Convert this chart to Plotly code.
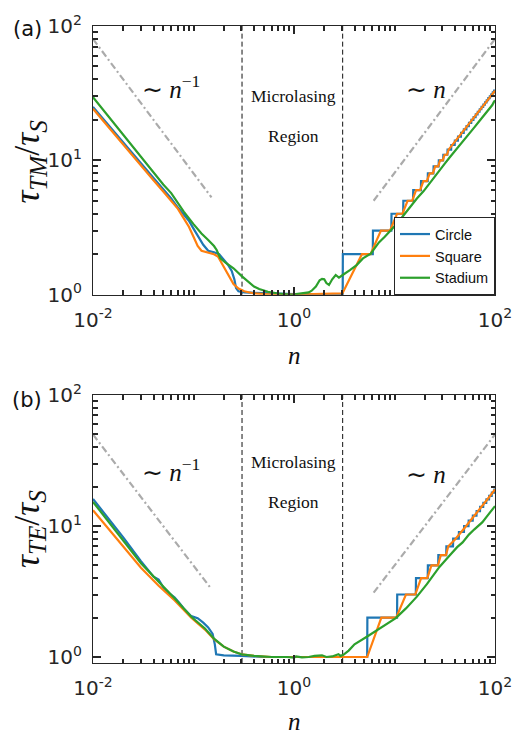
import plotly.graph_objects as go

# ---------------- data ----------------
# Panel (a): tau_TM / tau_S
circ_a_n = [0.01, 0.02, 0.03, 0.04, 0.05, 0.06, 0.07, 0.08, 0.09, 0.1, 0.11, 0.125, 0.14, 0.16,
            0.18, 0.2, 0.22, 0.24, 0.255, 0.265, 0.28, 0.32, 0.4, 0.6, 1.0, 2.0, 3.03]
circ_a_y = [25.0, 13.5, 9.5, 7.4, 6.1, 5.2, 4.45, 3.95, 3.55, 3.1, 2.75, 2.35, 2.12, 2.07,
            2.0, 1.83, 1.67, 1.5, 1.3, 1.12, 1.06, 1.04, 1.03, 1.02, 1.01, 1.01, 1.01]
circ_a_step_n = [3.05, 6.08, 9.3, 12.2, 15.3, 18.3, 21.4, 24.4, 27.5, 30.5, 33.6, 36.6, 39.7, 42.7,
                 45.8, 48.8, 51.9, 54.9, 58.0, 61.0, 64.1, 67.1, 70.2, 73.2, 76.3, 79.3, 82.4,
                 85.4, 88.5, 91.5, 94.6, 97.6]
circ_a_step_y = [2, 3, 4, 5, 6, 7, 8, 9, 10, 11, 12, 13, 14, 15, 16, 17, 18, 19, 20, 21, 22, 23,
                 24, 25, 26, 27, 28, 29, 30, 31, 32, 33]

sq_a_n = [0.01, 0.02, 0.03, 0.04, 0.05, 0.06, 0.07, 0.08, 0.09, 0.1, 0.11, 0.12, 0.14, 0.16,
          0.175, 0.19, 0.21, 0.23, 0.25, 0.28, 0.32, 0.4, 0.6, 1.0, 2.0, 3.03, 4.74, 5.77, 7.33,
          9.03, 10.6, 12.0, 13.5, 15.0, 16.4, 18.0, 19.4, 21.0, 22.4, 24.1, 25.4, 27.2, 28.4,
          30.2, 31.5, 33.3, 34.5, 40.0, 50.0, 60.0, 70.0, 80.0, 90.0, 100.0]
sq_a_y = [24.2, 13.0, 9.1, 7.1, 5.85, 5.0, 4.35, 3.7, 3.2, 2.7, 2.3, 2.12, 2.05, 2.0,
          1.92, 1.72, 1.5, 1.33, 1.2, 1.11, 1.06, 1.02, 1.0, 1.0, 1.01, 1.02, 2.0, 2.0, 3.0,
          3.0, 4.0, 4.0, 5.0, 5.0, 6.0, 6.0, 7.0, 7.0, 8.0, 8.0, 9.0, 9.0, 10.0,
          10.0, 11.0, 11.0, 12.0, 13.8, 16.8, 20.0, 23.3, 26.6, 29.8, 33.0]

st_a_n = [0.01, 0.02, 0.03, 0.04, 0.05, 0.06, 0.08, 0.1, 0.12, 0.14, 0.16, 0.17, 0.185, 0.21,
          0.25, 0.3, 0.35, 0.4, 0.45, 0.55, 0.7, 0.85, 0.95, 1.0, 1.05, 1.2, 1.4, 1.5, 1.65,
          1.8, 1.9, 2.0, 2.1, 2.23, 2.4, 2.6, 2.8, 3.05, 3.3, 3.6, 4.2, 4.85, 5.8, 7.0, 8.0,
          9.2, 10.5, 12.0, 14.0, 16.7, 19.5, 22.0, 25.0, 28.0, 31.5, 35.0, 40.0, 45.0, 50.0,
          55.0, 62.0, 70.0, 78.0, 85.0, 90.0, 94.0, 97.0, 100.0]
st_a_y = [29.5, 15.5, 10.6, 8.1, 6.6, 5.7, 4.15, 3.35, 2.85, 2.55, 2.3, 2.15, 1.86, 1.72,
          1.57, 1.38, 1.24, 1.15, 1.1, 1.05, 1.02, 1.0, 0.995, 0.99, 1.01, 1.02, 1.04, 1.07, 1.15,
          1.28, 1.31, 1.30, 1.22, 1.18, 1.3, 1.4, 1.34, 1.4, 1.45, 1.52, 1.66, 1.86, 2.02, 2.45, 2.7,
          3.0, 3.35, 3.8, 4.4, 5.2, 5.9, 6.6, 7.5, 8.4, 9.4, 10.4, 11.7, 13.0, 14.4,
          15.8, 17.5, 19.6, 21.6, 23.3, 24.5, 25.8, 27.0, 28.0]

# Panel (b): tau_TE / tau_S
circ_b_n = [0.01, 0.02, 0.03, 0.04, 0.045, 0.05, 0.058, 0.065, 0.072, 0.08, 0.095, 0.11, 0.125,
            0.14, 0.155, 0.163, 0.168, 0.2, 0.3, 0.5, 1.0, 3.0, 5.33]
circ_b_y = [16.1, 8.2, 5.4, 4.1, 3.9, 3.4, 3.05, 2.85, 2.6, 2.35, 2.05, 1.98, 1.83,
            1.68, 1.5, 1.25, 1.05, 1.03, 1.02, 1.0, 1.0, 1.0, 1.0]
circ_b_step_n = [5.35, 10.6, 16.3, 21.4, 27.2, 32.7, 38.2, 43.6, 49.1, 54.5, 60.0, 65.4, 70.9,
                 76.3, 81.8, 87.2, 92.7, 98.1]
circ_b_step_y = [2, 3, 4, 5, 6, 7, 8, 9, 10, 11, 12, 13, 14, 15, 16, 17, 18, 19]

sq_b_n = [0.01, 0.02, 0.03, 0.045, 0.065, 0.095, 0.11, 0.13, 0.16, 0.2, 0.25, 0.3, 0.4, 0.6,
          1.0, 3.0, 5.35, 7.4, 10.4, 13.0, 16.1, 18.4, 21.2, 23.3, 27.0, 28.9, 32.5, 34.3,
          40.0, 50.0, 60.0, 70.0, 80.0, 90.0, 100.0]
sq_b_y = [13.2, 6.9, 4.8, 3.5, 2.7, 2.0, 1.8, 1.62, 1.37, 1.2, 1.1, 1.05, 1.02, 1.0,
          1.0, 1.0, 1.0, 2.0, 2.0, 3.0, 3.0, 4.0, 4.0, 5.0, 5.0, 6.0, 6.0, 7.0,
          7.9, 9.7, 11.5, 13.3, 15.2, 17.1, 19.0]

st_b_n = [0.01, 0.02, 0.03, 0.045, 0.065, 0.095, 0.11, 0.13, 0.16, 0.2, 0.25, 0.3, 0.4, 0.6,
          0.85, 1.0, 1.05, 1.2, 1.4, 1.6, 1.9, 2.1, 2.4, 2.77, 2.9, 3.1, 3.5, 4.0, 5.4, 7.3,
          10.3, 13.0, 16.7, 21.0, 28.0, 35.0, 42.0, 47.6, 55.0, 62.0, 68.0, 75.0, 82.0, 88.0,
          92.0, 96.0, 100.0]
st_b_y = [15.3, 7.8, 5.2, 3.75, 2.8, 2.03, 1.83, 1.65, 1.38, 1.2, 1.1, 1.05, 1.02, 1.0,
          1.0, 0.99, 1.01, 0.995, 1.0, 1.02, 1.03, 1.0, 1.01, 1.05, 1.02, 1.04, 1.12, 1.25, 1.44, 1.67,
          1.98, 2.35, 2.89, 3.6, 4.87, 5.9, 6.9, 7.5, 8.6, 9.4, 10.0, 10.7, 11.7, 12.6,
          13.0, 13.6, 14.2]

# guide lines (~ n^-1 and ~ n)
guide_a_left_n, guide_a_left_y = [0.01, 0.151], [80.0, 5.3]
guide_a_right_n, guide_a_right_y = [6.2, 100.0], [5.0, 80.0]
guide_b_left_n, guide_b_left_y = [0.01, 0.151], [50.0, 3.3]
guide_b_right_n, guide_b_right_y = [6.2, 100.0], [3.1, 50.0]

# microlasing region boundaries
region_bounds_n = [0.304, 3.05]

series_names = ["Circle", "Square", "Stadium"]
x_major = [0.01, 1, 100]
x_major_text = ["10<sup>-2</sup>", "10<sup>0</sup>", "10<sup>2</sup>"]
y_major = [1, 10, 100]
y_major_text = ["10<sup>0</sup>", "10<sup>1</sup>", "10<sup>2</sup>"]
x_minor = [0.02, 0.03, 0.04, 0.05, 0.06, 0.07, 0.08, 0.09, 0.1, 0.2, 0.3, 0.4, 0.5, 0.6, 0.7,
           0.8, 0.9, 2, 3, 4, 5, 6, 7, 8, 9, 10, 20, 30, 40, 50, 60, 70, 80, 90]
y_minor = [2, 3, 4, 5, 6, 7, 8, 9, 20, 30, 40, 50, 60, 70, 80, 90]

# ---------------- figure ----------------
COLORS = ["#1F77B4", "#FF7F0E", "#2CA02C"]
GRAY = "#ABABAB"
AX = "#262626"

# pixel -> paper helpers (plot area: x 93..503, y 18..663)
L, R, T, B = 93, 21, 18, 72
W, H = 524, 735
PW, PH = W - L - R, H - T - B


def px_x(p):
    return (p - L) / PW


def px_y(p):
    return (H - B - p) / PH


def step_trace(left_n, left_y, step_n, step_y):
    xs, ys = list(left_n), list(left_y)
    for s, k in zip(step_n, step_y):
        xs += [s, s * 1.004]
        ys += [k - 1, k]
    xs.append(100.0)
    ys.append(step_y[-1])
    return xs, ys


fig = go.Figure()

panels = [
    dict(xa="x", ya="y", xo="x3", yo="y3", yr=(1.0, 100.0),
         circ=step_trace(circ_a_n, circ_a_y, circ_a_step_n, circ_a_step_y),
         sq=(sq_a_n, sq_a_y), st=(st_a_n, st_a_y),
         guides=[(guide_a_left_n, guide_a_left_y), (guide_a_right_n, guide_a_right_y)],
         legend=True),
    dict(xa="x2", ya="y2", xo="x4", yo="y4", yr=(0.9, 100.0),
         circ=step_trace(circ_b_n, circ_b_y, circ_b_step_n, circ_b_step_y),
         sq=(sq_b_n, sq_b_y), st=(st_b_n, st_b_y),
         guides=[(guide_b_left_n, guide_b_left_y), (guide_b_right_n, guide_b_right_y)],
         legend=False),
]

for p in panels:
    for gx, gy in p["guides"]:
        fig.add_trace(go.Scatter(x=gx, y=gy, mode="lines", xaxis=p["xa"], yaxis=p["ya"],
                                 line=dict(color=GRAY, width=2.2, dash="7px,3px,2px,3px"),
                                 showlegend=False, hoverinfo="skip"))
    for b in region_bounds_n:
        fig.add_trace(go.Scatter(x=[b, b], y=list(p["yr"]), mode="lines",
                                 xaxis=p["xa"], yaxis=p["ya"],
                                 line=dict(color="#111111", width=1, dash="5px,3px"),
                                 showlegend=False, hoverinfo="skip"))
    for (sx, sy), name, col in zip([p["circ"], p["sq"], p["st"]], series_names, COLORS):
        fig.add_trace(go.Scatter(x=sx, y=sy, mode="lines", name=name,
                                 xaxis=p["xa"], yaxis=p["ya"],
                                 line=dict(color=col, width=2.2),
                                 showlegend=p["legend"]))
    # empty trace so the overlay axes carrying the short (minor) ticks are drawn
    fig.add_trace(go.Scatter(x=[None], y=[None], mode="lines", xaxis=p["xo"], yaxis=p["yo"],
                             showlegend=False, hoverinfo="skip"))

tickfont = dict(family="DejaVu Sans", size=20, color=AX)

# main axes: labelled major ticks (long)
xbase = dict(type="log", range=[-2, 2], tickmode="array", tickvals=x_major,
             ticktext=x_major_text, ticks="inside", ticklen=8, tickwidth=1.5, tickcolor=AX,
             showline=True, linecolor=AX, linewidth=1.2, mirror="ticks", showgrid=False,
             zeroline=False, tickfont=tickfont, ticklabelstandoff=7)
ybase = dict(type="log", tickmode="array", tickvals=y_major, ticktext=y_major_text,
             ticks="inside", ticklen=8, tickwidth=1.5, tickcolor=AX, showline=True,
             linecolor=AX, linewidth=1.2, mirror="ticks", showgrid=False, zeroline=False,
             tickfont=tickfont, ticklabelstandoff=6)
# overlay axes: unlabelled minor ticks (short)
xmin_ax = dict(type="log", range=[-2, 2], tickmode="array", tickvals=x_minor, ticks="inside",
               ticklen=4.5, tickwidth=1.5, tickcolor=AX, showline=False, mirror="ticks",
               showgrid=False, zeroline=False, showticklabels=False)
ymin_ax = dict(type="log", tickmode="array", tickvals=y_minor, ticks="inside",
               ticklen=4.5, tickwidth=1.5, tickcolor=AX, showline=False, mirror="ticks",
               showgrid=False, zeroline=False, showticklabels=False)

ya_dom = [px_y(290), 1.0]
yb_dom = [0.0, px_y(391.7)]
yb_range = [-0.04576, 2]

fig.update_layout(
    width=W, height=H,
    margin=dict(l=L, r=R, t=T, b=B),
    paper_bgcolor="white", plot_bgcolor="white",
    xaxis=dict(domain=[0, 1], anchor="y", **xbase),
    yaxis=dict(domain=ya_dom, anchor="x", range=[0, 2], **ybase),
    xaxis2=dict(domain=[0, 1], anchor="y2", **xbase),
    yaxis2=dict(domain=yb_dom, anchor="x2", range=yb_range, **ybase),
    xaxis3=dict(overlaying="x", anchor="y", **xmin_ax),
    yaxis3=dict(overlaying="y", anchor="x", range=[0, 2], **ymin_ax),
    xaxis4=dict(overlaying="x2", anchor="y2", **xmin_ax),
    yaxis4=dict(overlaying="y2", anchor="x2", range=yb_range, **ymin_ax),
    legend=dict(x=1.0, y=px_y(290.5), xanchor="right", yanchor="bottom",
                bgcolor="white", bordercolor=AX, borderwidth=1,
                font=dict(family="Liberation Sans", size=14.5, color="#111111"),
                tracegroupgap=0, itemwidth=30),
    showlegend=True,
)

serif = "Liberation Serif"
ann = []


def add_text(text, xp, yp, size, family=serif, angle=0):
    ann.append(dict(text=text, x=px_x(xp), y=px_y(yp), xref="paper", yref="paper",
                    showarrow=False, textangle=angle, xanchor="center", yanchor="middle",
                    font=dict(family=family, size=size, color="#111111")))


for idx, y_sim, y_mic, y_reg, y_n, lab, y_lab, ytitle, ymid, yx in [
    (0, 80, 89, 129, 82, "(a)", 21,
     "<i>τ</i><sub><i>TM</i></sub>/<i>τ</i><sub><i>S</i></sub>", 155, 352),
    (1, 468, 459, 500, 472, "(b)", 397,
     "<i>τ</i><sub><i>TE</i></sub>/<i>τ</i><sub><i>S</i></sub>", 527, 722),
]:
    add_text("∼ <i>n</i><sup>−1</sup>", 173, y_sim, 25)
    add_text("∼ <i>n</i>", 433, y_n, 25)
    add_text("Microlasing", 297, y_mic, 17.5)
    add_text("Region", 297, y_reg, 17.5)
    add_text(lab, 26, y_lab, 21, family="DejaVu Sans")
    add_text(ytitle, 28, ymid, 36, angle=-90)
    add_text("<i>n</i>", 298, yx, 25)

fig.update_layout(annotations=ann)
fig.write_html("out.html")
